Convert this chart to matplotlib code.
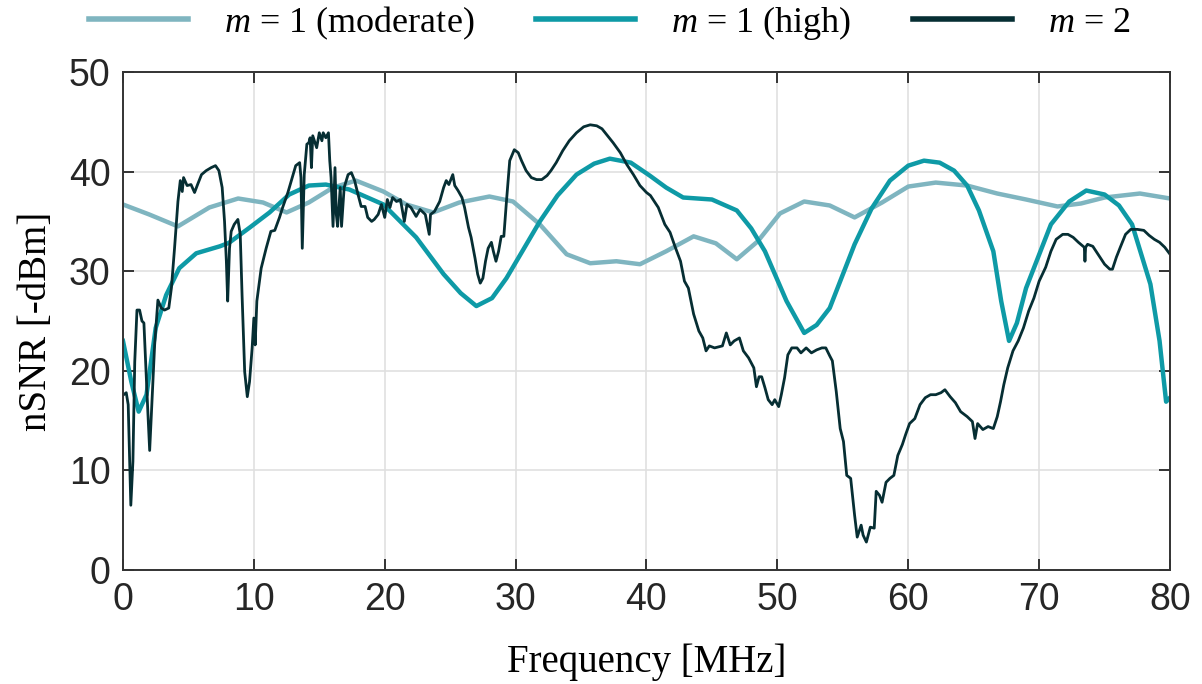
import numpy as np
import matplotlib.pyplot as plt

# m = 1 (moderate)
f_mod = [0, 2, 4.2, 6.6, 8.8, 10.7, 12.5, 14.2, 16.05, 17.8, 19.9, 21.65, 23.7, 25.7, 28,
         29.8, 31.85, 33.9, 35.7, 37.7, 39.5, 41.5, 43.6, 45.3, 46.9, 48.5, 50.2, 52.05, 54,
         55.9, 58, 60, 62.1, 64.5, 66.8, 69, 71.4, 73.2, 75, 77.7, 80]
y_mod = [36.7, 35.7, 34.5, 36.4, 37.3, 36.9, 35.9, 36.9, 38.4, 39.1, 38.0, 36.7, 35.9, 36.9, 37.5,
         37.0, 34.7, 31.7, 30.8, 31.0, 30.7, 32.0, 33.5, 32.8, 31.2, 33.0, 35.8, 37.0, 36.6,
         35.4, 36.9, 38.5, 38.9, 38.6, 37.8, 37.2, 36.5, 36.8, 37.4, 37.8, 37.3]

# m = 1 (high)
f_high = [0, 0.64, 1.2, 1.8, 2.5, 3.3, 4.3, 5.6, 7.4, 8.1, 9.7, 11.2, 12.7, 14.2, 15.5, 17.3,
          19.9, 22.4, 24.5, 25.8, 27, 28.2, 29.3, 30.6, 31.85, 33.2, 34.65, 36, 37.2, 38.8,
          40.25, 41.5, 42.8, 45, 46.9, 48, 49.05, 50.7, 52.05, 53, 54, 55.9, 57.2, 58.6, 60,
          61.2, 62.4, 63.5, 64.5, 65.4, 66.5, 67.1, 67.7, 68.3, 69, 70.9, 72.3, 73.6, 75,
          76.1, 77.1, 78.5, 79.2, 79.7, 80]
y_high = [23.0, 18.9, 15.9, 17.6, 24.3, 27.6, 30.3, 31.8, 32.5, 32.85, 34.4, 35.9, 37.7, 38.6,
          38.7, 38.2, 36.7, 33.4, 29.7, 27.8, 26.5, 27.3, 29.3, 32.2, 35.0, 37.6, 39.7, 40.8,
          41.3, 40.9, 39.6, 38.4, 37.4, 37.2, 36.1, 34.3, 32.0, 27.0, 23.8, 24.6, 26.3, 32.7,
          36.3, 39.1, 40.6, 41.1, 40.9, 40.1, 38.6, 36.1, 32.0, 27.0, 23.0, 24.8, 28.3, 34.7,
          37.0, 38.1, 37.7, 36.6, 34.7, 28.7, 23.0, 16.9, 17.3]

# m = 2
f_m2 = [0.05, 0.25, 0.4, 0.6, 0.76, 0.9, 1.07, 1.27, 1.45, 1.6, 1.73, 1.9, 2.04, 2.24, 2.42,
        2.67, 2.93, 3.18, 3.5, 3.7, 3.94, 4.2, 4.38, 4.53, 4.63, 4.9, 5.2, 5.47, 5.7, 6.0,
        6.36, 6.74, 7.07, 7.33, 7.58, 7.76, 7.9, 8.0, 8.14, 8.27, 8.5, 8.78, 8.96, 9.1, 9.3,
        9.5, 9.67, 9.87, 10.0, 10.1, 10.23, 10.56, 10.94, 11.3, 11.6, 11.96, 12.2, 12.6, 13.0,
        13.2, 13.5, 13.6, 13.7, 13.85, 14.05, 14.2, 14.3, 14.4, 14.5, 14.8, 15.0, 15.2, 15.3,
        15.5, 15.7, 15.8, 15.9, 16.05, 16.2, 16.3, 16.4, 16.6, 16.7, 16.9, 17.2, 17.45, 17.7,
        17.96, 18.2, 18.5, 18.7, 19.0, 19.2, 19.5, 19.75, 20.0, 20.2, 20.4, 20.6, 20.9, 21.2,
        21.5, 21.7, 22.0, 22.4, 22.7, 23.1, 23.4, 23.5, 23.8, 24.2, 24.5, 24.7, 24.9, 25.2,
        25.35, 25.6, 25.9, 26.1, 26.4, 26.6, 26.9, 27.1, 27.3, 27.5, 27.7, 27.9, 28.15, 28.3,
        28.5, 28.7, 28.9, 29.1, 29.3, 29.55, 29.9, 30.2, 30.45, 30.8, 31.2, 31.6, 32.0, 32.4,
        32.7, 33.1, 33.6, 34.1, 34.65, 35.2, 35.7, 36.2, 36.6, 36.9, 37.45, 38.0, 38.5, 39.0,
        39.5, 40.0, 40.3, 40.9, 41.4, 41.8, 42.2, 42.6, 42.9, 43.2, 43.6, 44.0, 44.3, 44.55,
        44.8, 45.2, 45.8, 46.1, 46.4, 46.7, 47.1, 47.4, 47.8, 48.2, 48.4, 48.6, 48.8, 49.05,
        49.3, 49.6, 49.8, 50.1, 50.3, 50.55, 50.8, 51.1, 51.5, 51.8, 52.2, 52.6, 53.0, 53.4,
        53.7, 54.0, 54.2, 54.5, 54.8, 55.05, 55.3, 55.6, 55.9, 56.1, 56.4, 56.55, 56.8, 57.1,
        57.4, 57.55, 57.8, 58.0, 58.3, 58.6, 58.9, 59.2, 59.55, 59.8, 60.1, 60.5, 60.9, 61.3,
        61.7, 62.1, 62.5, 62.8, 63.2, 63.6, 64.0, 64.5, 64.9, 65.1, 65.3, 65.7, 66.1, 66.5,
        66.8, 67.05, 67.3, 67.6, 68.0, 68.4, 68.8, 69.2, 69.6, 70.0, 70.5, 70.9, 71.3, 71.8,
        72.2, 72.6, 73.0, 73.45, 73.5, 73.55, 73.7, 74.1, 74.5, 75.0, 75.4, 75.6, 75.9, 76.2,
        76.6, 77.0, 77.5, 78.0, 78.4, 78.8, 79.2, 79.6, 80.0]
y_m2 = [17.6, 17.8, 16.6, 6.5, 10.9, 20.9, 26.1, 26.1, 25.0, 24.8, 20.9, 15.9, 12.0, 17.6, 22.6,
        27.1, 26.3, 26.1, 26.3, 28.3, 32.3, 37.0, 39.1, 38.0, 39.4, 38.6, 38.7, 37.9, 38.7, 39.7,
        40.1, 40.4, 40.6, 40.1, 38.4, 35.0, 31.0, 27.0, 32.3, 34.0, 34.7, 35.2, 33.7, 27.6, 19.9,
        17.4, 18.9, 22.3, 25.3, 22.6, 27.0, 30.3, 32.3, 34.0, 34.1, 35.4, 36.4, 37.9, 39.7,
        40.6, 40.9, 39.4, 32.3, 39.7, 42.75, 42.9, 43.4, 40.4, 43.6, 42.4, 43.9, 43.1, 43.9,
        43.4, 43.9, 41.1, 39.4, 34.5, 40.4, 35.7, 34.5, 38.4, 34.5, 38.4, 39.7, 39.9, 39.1,
        37.7, 36.5, 36.5, 35.4, 35.0, 35.2, 35.7, 36.7, 35.4, 37.2, 36.4, 37.4, 37.0, 37.2,
        35.0, 36.7, 36.4, 35.5, 36.2, 35.7, 33.7, 35.7, 36.0, 37.0, 38.4, 39.1, 38.7, 39.7,
        38.6, 38.1, 37.4, 36.4, 34.4, 33.4, 31.3, 29.7, 28.8, 29.3, 31.0, 32.3, 32.9, 32.0,
        31.0, 32.0, 33.5, 33.5, 37.0, 41.1, 42.2, 41.9, 41.1, 40.1, 39.4, 39.2, 39.2, 39.6,
        40.1, 40.9, 42.1, 43.1, 43.9, 44.5, 44.7, 44.6, 44.3, 43.8, 42.9, 41.9, 40.7, 39.7,
        38.6, 37.9, 37.6, 36.4, 34.7, 33.9, 32.4, 31.0, 29.0, 28.3, 25.7, 24.0, 23.3, 22.0,
        22.5, 22.3, 22.5, 23.8, 22.6, 23.0, 23.3, 22.0, 21.3, 20.3, 18.4, 19.4, 19.4, 18.3,
        17.1, 16.6, 17.1, 16.4, 17.6, 19.3, 21.6, 22.3, 22.3, 21.8, 22.3, 21.8, 22.1, 22.3,
        22.3, 21.5, 21.0, 17.9, 14.2, 12.9, 9.5, 9.2, 5.5, 3.3, 4.5, 3.5, 2.8, 4.3,
        4.2, 7.9, 7.5, 6.8, 8.8, 9.2, 9.5, 11.5, 12.6, 13.6, 14.7, 15.2, 16.6, 17.3,
        17.6, 17.6, 17.8, 18.1, 17.4, 16.8, 15.9, 15.4, 14.9, 13.2, 14.7, 14.1, 14.4, 14.2,
        15.4, 16.9, 18.6, 20.3, 22.0, 23.0, 24.3, 26.0, 27.3, 29.0, 30.4, 32.0, 33.2, 33.7,
        33.7, 33.4, 32.9, 32.4, 31.0, 32.4, 32.7, 32.5, 31.7, 30.7, 30.2, 30.2, 31.4, 32.4,
        33.7, 34.2, 34.2, 34.1, 33.6, 33.2, 32.9, 32.4, 31.7]

labels = ['$m$ = 1 (moderate)', '$m$ = 1 (high)', '$m$ = 2']
xticks = [0, 10, 20, 30, 40, 50, 60, 70, 80]
yticks = [0, 10, 20, 30, 40, 50]

plt.rcParams['mathtext.fontset'] = 'custom'
plt.rcParams['mathtext.it'] = 'Liberation Serif:italic'
plt.rcParams['mathtext.rm'] = 'Liberation Serif'

fig = plt.figure(figsize=(12.02, 6.84), dpi=100)
ax = fig.add_axes([0.1023, 0.1667, 0.8711, 0.728])

ax.plot(f_mod, y_mod, color='#7fb5c0', lw=3.2, label=labels[0])
ax.plot(f_high, y_high, color='#0e9aa6', lw=3.2, label=labels[1])
ax.plot(f_m2, y_m2, color='#062e33', lw=2.0, label=labels[2])

ax.set_xlim(0, 80)
ax.set_ylim(0, 50)
ax.set_xticks(xticks)
ax.set_yticks(yticks)
ax.grid(True, color='#e0e0e0', lw=1.2)
ax.set_axisbelow(True)
ax.tick_params(direction='in', length=8, width=1.3, top=True, right=True,
               labelsize=27, colors='#262626', pad=9)
for tl in ax.get_xticklabels() + ax.get_yticklabels():
    tl.set_family('Liberation Sans')
for s in ax.spines.values():
    s.set_color('#333333')
    s.set_linewidth(1.4)

ax.set_xlabel('Frequency [MHz]', family='Liberation Serif', fontsize=28, labelpad=18)
ax.set_ylabel('nSNR [-dBm]', family='Liberation Serif', fontsize=28, labelpad=10)

leg = ax.legend(loc='lower center', bbox_to_anchor=(0.465, 0.995), ncol=3, frameon=False,
                handlelength=2.75, columnspacing=1.7, handletextpad=1.0,
                prop={'family': 'Liberation Serif', 'size': 26})
for line in leg.get_lines():
    line.set_linewidth(4)

plt.savefig('out.png', dpi=100)
